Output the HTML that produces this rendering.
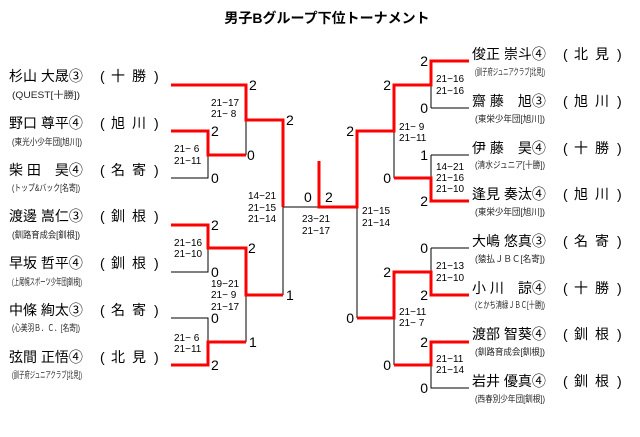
<!DOCTYPE html>
<html><head><meta charset="utf-8"><style>
body{margin:0;background:#fff;}
svg{display:block;font-family:"Liberation Sans","Noto Sans CJK JP",sans-serif;}
.n{font-size:14px;fill:#000}
.s{font-size:9px;fill:#222}
.d{font-size:14px}
.g{font-size:10px}
</style></head><body>
<svg width="640" height="437" viewBox="0 0 640 437">
<text x="327" y="23" text-anchor="middle" font-size="14" font-weight="bold">男子Bグループ下位トーナメント</text>
<g stroke="#000" stroke-width="1" fill="none">
<path d="M171 178H208V155M246 155V120M171 272H208V248M246 295V342M171 318H208V342M283 207V295M283 207H357V318M431 108H469M431 85V108M394 131V178M431 155H469M431 155V178M431 248H469M431 248V272M394 318V365M431 365V388H469"/>
</g>
<g stroke="#f00" stroke-width="3" fill="none">
<path d="M171 85H246V120H283V207M171 131H208V155H246M171 225H208V248H246V295H283M171 365H208V342H246M319 161V207H357V131H394V85H431V61H469M394 178H431V201H469M357 318H394V272H431V295H469M394 365H431V342H469"/>
</g>
<g class="d">
<text x="249" y="90">2</text><text x="286" y="125">2</text><text x="211" y="136">2</text><text x="247" y="160">0</text><text x="211" y="183">0</text>
<text x="304" y="202">0</text><text x="325" y="202">2</text>
<text x="211" y="230">2</text><text x="248" y="253">2</text><text x="211" y="277">0</text><text x="286" y="300">1</text><text x="211" y="323">0</text><text x="249" y="347">1</text><text x="211" y="370">2</text>
<text x="354" y="136" text-anchor="end">2</text><text x="391" y="90" text-anchor="end">2</text><text x="428" y="66" text-anchor="end">2</text><text x="428" y="113" text-anchor="end">0</text>
<text x="391" y="183" text-anchor="end">0</text><text x="428" y="160" text-anchor="end">1</text><text x="428" y="206" text-anchor="end">2</text>
<text x="428" y="253" text-anchor="end">0</text><text x="391" y="277" text-anchor="end">2</text><text x="428" y="300" text-anchor="end">2</text><text x="354" y="323" text-anchor="end">0</text>
<text x="428" y="347" text-anchor="end">2</text><text x="391" y="370" text-anchor="end">0</text><text x="428" y="393" text-anchor="end">0</text>
</g>
<g class="g">
<text x="211" y="106">21−17</text><text x="211" y="117">21− 8</text>
<text x="174" y="152">21− 6</text><text x="174" y="164">21−11</text>
<text x="248" y="199">14−21</text><text x="248" y="211">21−15</text><text x="248" y="222">21−14</text>
<text x="302" y="222">23−21</text><text x="302" y="234">21−17</text>
<text x="174" y="246">21−16</text><text x="174" y="257">21−10</text>
<text x="211" y="287">19−21</text><text x="211" y="298">21− 9</text><text x="211" y="310">21−17</text>
<text x="174" y="341">21− 6</text><text x="174" y="352">21−11</text>
<text x="362" y="214">21−15</text><text x="362" y="226">21−14</text>
<text x="436" y="82">21−16</text><text x="436" y="94">21−16</text>
<text x="399" y="130">21− 9</text><text x="399" y="141">21−11</text>
<text x="436" y="170">14−21</text><text x="436" y="181">21−16</text><text x="436" y="192">21−10</text>
<text x="436" y="269">21−13</text><text x="436" y="281">21−10</text>
<text x="399" y="315">21−11</text><text x="399" y="326">21− 7</text>
<text x="436" y="362">21−11</text><text x="436" y="373">21−14</text>
</g>
<g class="n">
<text x="9" y="81">杉山 大晟③</text><text x="100 111 132 154" y="81">(十勝)</text>
<text x="9" y="128">野口 尊平④</text><text x="100 111 132 154" y="128">(旭川)</text>
<text x="9" y="175">柴 田　昊④</text><text x="100 111 132 154" y="175">(名寄)</text>
<text x="9" y="221">渡邊 嵩仁③</text><text x="100 111 132 154" y="221">(釧根)</text>
<text x="9" y="268">早坂 哲平④</text><text x="100 111 132 154" y="268">(釧根)</text>
<text x="9" y="315">中條 絢太③</text><text x="100 111 132 154" y="315">(名寄)</text>
<text x="9" y="362">弦間 正悟④</text><text x="100 111 132 154" y="362">(北見)</text>
<text x="472" y="59">俊正 崇斗④</text><text x="563 574 595 617" y="59">(北見)</text>
<text x="472" y="106">齋 藤　旭③</text><text x="563 574 595 617" y="106">(旭川)</text>
<text x="472" y="153">伊 藤　昊④</text><text x="563 574 595 617" y="153">(十勝)</text>
<text x="472" y="199">逢見 奏汰④</text><text x="563 574 595 617" y="199">(旭川)</text>
<text x="472" y="246">大嶋 悠真③</text><text x="563 574 595 617" y="246">(名寄)</text>
<text x="472" y="293">小 川　諒④</text><text x="563 574 595 617" y="293">(十勝)</text>
<text x="472" y="339">渡部 智葵④</text><text x="563 574 595 617" y="339">(釧根)</text>
<text x="472" y="386">岩井 優真④</text><text x="563 574 595 617" y="386">(釧根)</text>
</g>
<g class="s">
<text x="12" y="98" textLength="68" lengthAdjust="spacingAndGlyphs">(QUEST[十勝])</text>
<text x="12" y="145" textLength="70" lengthAdjust="spacingAndGlyphs">(東光小少年団[旭川])</text>
<text x="12" y="191" textLength="68" lengthAdjust="spacingAndGlyphs">(トップ&amp;バック[名寄])</text>
<text x="12" y="238" textLength="68" lengthAdjust="spacingAndGlyphs">(釧路育成会[釧根])</text>
<text x="12" y="285" textLength="70" lengthAdjust="spacingAndGlyphs">(上尾幌スポーツ少年団[釧根])</text>
<text x="12" y="331" textLength="68" lengthAdjust="spacingAndGlyphs">(心美羽Ｂ．Ｃ．[名寄])</text>
<text x="12" y="378" textLength="70" lengthAdjust="spacingAndGlyphs">(訓子府ジュニアクラブ[北見])</text>
<text x="475" y="75" textLength="70" lengthAdjust="spacingAndGlyphs">(訓子府ジュニアクラブ[北見])</text>
<text x="475" y="122" textLength="70" lengthAdjust="spacingAndGlyphs">(東栄少年団[旭川])</text>
<text x="475" y="168" textLength="70" lengthAdjust="spacingAndGlyphs">(清水ジュニア[十勝])</text>
<text x="475" y="215" textLength="70" lengthAdjust="spacingAndGlyphs">(東栄少年団[旭川])</text>
<text x="475" y="262" textLength="70" lengthAdjust="spacingAndGlyphs">(猿払ＪＢＣ[名寄])</text>
<text x="475" y="308" textLength="70" lengthAdjust="spacingAndGlyphs">(とかち清緑ＪＢＣ[十勝])</text>
<text x="475" y="355" textLength="70" lengthAdjust="spacingAndGlyphs">(釧路育成会[釧根])</text>
<text x="475" y="402" textLength="70" lengthAdjust="spacingAndGlyphs">(西春別少年団[釧根])</text>
</g>
</svg>
</body></html>
